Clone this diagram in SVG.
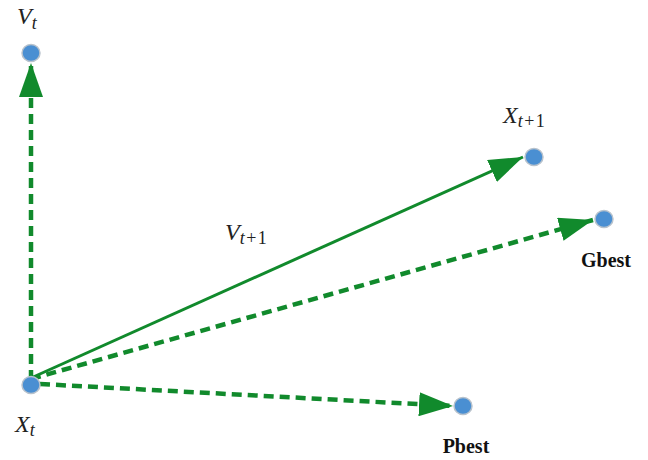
<svg xmlns="http://www.w3.org/2000/svg" width="648" height="460" viewBox="0 0 648 460">
<style>
.node{fill:#4a8fd2;stroke:#b8c2cc;stroke-width:1.5}
.math{font-family:"Liberation Serif","DejaVu Serif",serif;font-style:italic;font-size:24px;fill:#222}
.sub{font-size:18px;letter-spacing:1.5px}
.up{font-style:normal}
.lbl{font-family:"Liberation Serif","DejaVu Serif",serif;font-weight:bold;font-size:20px;fill:#111;text-anchor:middle}
.dash{stroke:#118a2c;stroke-width:4.5;fill:none;stroke-dasharray:10 6}
.solid{stroke:#118a2c;stroke-width:3;fill:none}
</style>
<defs>
<marker id="ah" markerUnits="userSpaceOnUse" markerWidth="35" markerHeight="24" refX="34" refY="12" orient="auto">
<polygon points="0,0 34,12 0,24" fill="#118a2c"/>
</marker>
</defs>
<g id="connectors">
<line class="dash" x1="31" y1="380" x2="31" y2="63" marker-end="url(#ah)"/>
<line class="solid" x1="31" y1="378" x2="523" y2="157" marker-end="url(#ah)"/>
<line class="dash" x1="31" y1="379" x2="593" y2="220" marker-end="url(#ah)"/>
<line class="dash" x1="40" y1="384" x2="453" y2="406" marker-end="url(#ah)"/>
<text class="math" x="225" y="240">V<tspan class="sub" dy="4">t<tspan class="up">+1</tspan></tspan></text>
</g>
<g id="Vt">
<ellipse class="node" cx="31" cy="53" rx="9" ry="8.5"/>
<text class="math" x="17" y="24">V<tspan class="sub" dy="5">t</tspan></text>
</g>
<g id="Xt">
<ellipse class="node" cx="31" cy="385" rx="9" ry="8.5"/>
<text class="math" x="15" y="432">X<tspan class="sub" dy="4">t</tspan></text>
</g>
<g id="Xt1">
<ellipse class="node" cx="534" cy="157" rx="9" ry="8.5"/>
<text class="math" x="503" y="123">X<tspan class="sub" dy="4">t<tspan class="up">+1</tspan></tspan></text>
</g>
<g id="Gbest">
<ellipse class="node" cx="604" cy="219" rx="9" ry="8.5"/>
<text class="lbl" x="606" y="267">Gbest</text>
</g>
<g id="Pbest">
<ellipse class="node" cx="463" cy="406" rx="9" ry="8.5"/>
<text class="lbl" x="466" y="453">Pbest</text>
</g>
</svg>
